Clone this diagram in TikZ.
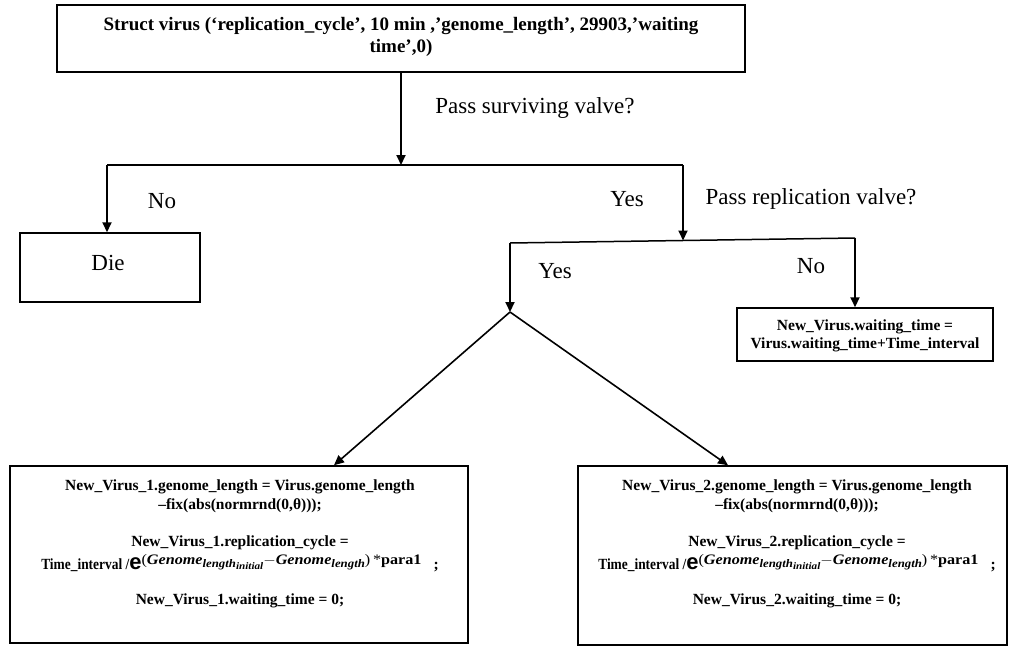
\documentclass[tikz,border=0pt]{standalone}
\usepackage{fontspec}
\usepackage{amsmath}
\usepackage{graphicx}
\setmainfont{Liberation Serif}
\setsansfont{Liberation Sans}
\usetikzlibrary{arrows.meta}
\newcommand{\bi}[1]{\textit{\textbf{#1}}}
\newcommand{\expo}{\fontsize{14.5}{14.5}\selectfont\mdseries(\bi{Genome}\raisebox{-3pt}{\fontsize{11.5}{11.5}\selectfont\bi{length}\raisebox{-2.5pt}{\fontsize{10}{10}\selectfont\bi{initial}}}$-$\bi{Genome}\raisebox{-3pt}{\fontsize{11.5}{11.5}\selectfont\bi{length}})\,*\textbf{para1}}
\newcommand{\formula}{\resizebox{88pt}{\height}{Time\_interval /}{\fontsize{22}{22}\selectfont\sffamily e}\raisebox{5.5pt}{\resizebox{280pt}{\height}{\expo}}\hspace{12pt};}
\begin{document}
\begin{tikzpicture}[x=1pt,y=-1pt,
  box/.style={draw, line width=1.5pt, inner sep=0pt},
  lbl/.style={font=\fontsize{23}{26}\selectfont, inner sep=0pt},
  bt/.style={font=\bfseries\fontsize{15.5}{19}\selectfont, align=center, inner sep=0pt},
  arr/.style={line width=2pt, -{Triangle[length=10pt,width=9pt]}},
  darr/.style={line width=1.6pt, -{Triangle[length=10pt,width=9pt]}},
  ln/.style={line width=1.5pt}]
\useasboundingbox (0,0) rectangle (1011,648);

% boxes
\node[box, minimum width=688pt, minimum height=67pt] (top) at (401,38.5) {};
\node[box, minimum width=180pt, minimum height=69pt] (die) at (110,267.5) {};
\node[box, minimum width=256pt, minimum height=53pt] (nobox) at (865,334.5) {};
\node[box, minimum width=458pt, minimum height=177pt] (left) at (239,554.5) {};
\node[box, minimum width=429pt, minimum height=179pt] (right) at (792.5,555.5) {};

% texts
\node[bt, font=\bfseries\fontsize{19}{22}\selectfont] (toptext) at (401,37)
  {Struct virus (‘replication\_cycle’, 10 min ,’genome\_length’, 29903,’waiting\\ time’,0)};
\node[lbl] (dietext) at (108,263) {Die};
\node[bt, font=\bfseries\fontsize{15.5}{18}\selectfont] (notext) at (865,336)
  {New\_Virus.waiting\_time =\\ Virus.waiting\_time+Time\_interval};
\node[bt] (lefttext) at (240,544)
  {New\_Virus\_1.genome\_length = Virus.genome\_length\\
   –fix(abs(normrnd(0,θ)));\\[18pt]
   New\_Virus\_1.replication\_cycle =\\[4pt]
   \formula\\[16pt]
   New\_Virus\_1.waiting\_time = 0;};
\node[bt] (righttext) at (797,544)
  {New\_Virus\_2.genome\_length = Virus.genome\_length\\
   –fix(abs(normrnd(0,θ)));\\[18pt]
   New\_Virus\_2.replication\_cycle =\\[4pt]
   \formula\\[16pt]
   New\_Virus\_2.waiting\_time = 0;};

% labels
\node[lbl] (q1) at (535,108) {Pass surviving valve?};
\node[lbl] (no1) at (162,201) {No};
\node[lbl] (yes1) at (627,199) {Yes};
\node[lbl] (q2) at (811,199) {Pass replication valve?};
\node[lbl] (yes2) at (555,271) {Yes};
\node[lbl] (no2) at (811,266) {No};

% junctions
\coordinate (j1) at (401,165);
\coordinate (hL) at (107,165);
\coordinate (hR) at (683,165);
\coordinate (h2L) at (510,243);
\coordinate (h2R) at (855,238);
\coordinate (h2M) at (683,240.5);
\coordinate (j2) at (510,312);

% connectors
\draw[arr] (top.south) -- (j1);
\draw[ln] (hL) -- (hR);
\draw[arr] (hL) -- (hL |- die.north);
\draw[arr] (hR) -- (h2M);
\draw[ln] (h2L) -- (h2R);
\draw[arr] (h2L) -- (j2);
\draw[arr] (h2R) -- (h2R |- nobox.north);
\draw[darr] (j2) -- ([xshift=95pt]left.north);
\draw[darr] (j2) -- ([xshift=-64.5pt]right.north);
\end{tikzpicture}
\end{document}
